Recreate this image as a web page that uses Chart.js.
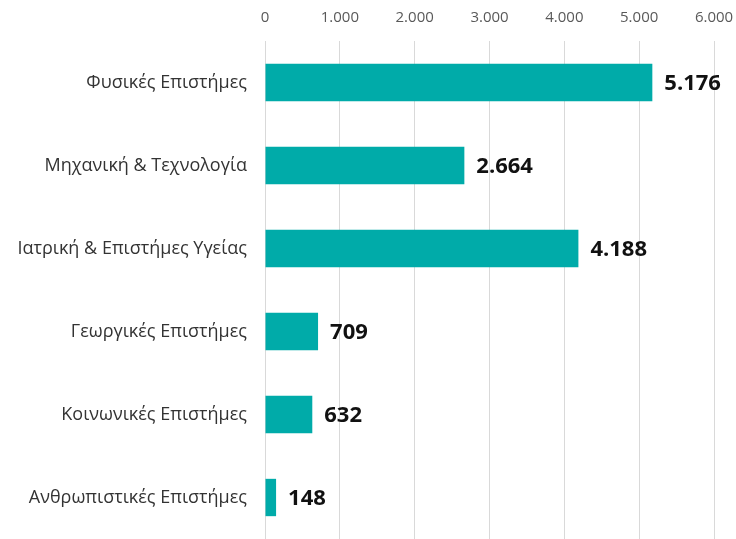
<!DOCTYPE html>
<html lang="el">
<head>
<meta charset="utf-8">
<title>Πεδία επιστημών</title>
<script src="https://cdn.jsdelivr.net/npm/chart.js@4/dist/chart.umd.min.js"></script>
<style>
  html, body { margin: 0; padding: 0; background: #fff; }
  #wrap { width: 736px; height: 539px; position: relative; }
</style>
</head>
<body>
<div id="wrap"><canvas id="chart"></canvas></div>
<script>
const categories = [
  'Φυσικές Επιστήμες',
  'Μηχανική & Τεχνολογία',
  'Ιατρική & Επιστήμες Υγείας',
  'Γεωργικές Επιστήμες',
  'Κοινωνικές Επιστήμες',
  'Ανθρωπιστικές Επιστήμες'
];
const values = [5176, 2664, 4188, 709, 632, 148];
const axisMax = 6000;
const axisStep = 1000;

const FONT = "'Open Sans', 'Liberation Sans', sans-serif";

// 5176 -> "5.176"
function fmt(n) {
  return String(n).replace(/\B(?=(\d{3})+(?!\d))/g, '.');
}

// writes the value just past the end of every bar
const valueLabels = {
  id: 'valueLabels',
  afterDatasetsDraw(chart) {
    const ctx = chart.ctx;
    const meta = chart.getDatasetMeta(0);
    ctx.save();
    ctx.font = "bold 22px " + FONT;
    ctx.fillStyle = '#111';
    ctx.textAlign = 'left';
    ctx.textBaseline = 'middle';
    meta.data.forEach((bar, i) => {
      ctx.fillText(fmt(values[i]), bar.x + 12, bar.y + 1);
    });
    ctx.restore();
  }
};

const ctx = document.getElementById('chart').getContext('2d');
new Chart(ctx, {
  type: 'bar',
  data: {
    labels: categories,
    datasets: [{
      data: values,
      backgroundColor: '#00ABA9',
      borderWidth: 0,
      barPercentage: 0.9,
      categoryPercentage: 0.5
    }]
  },
  options: {
    indexAxis: 'y',
    responsive: true,
    maintainAspectRatio: false,
    animation: false,
    layout: { padding: { left: 0, right: 22, top: 0, bottom: 0 } },
    plugins: {
      legend: { display: false },
      tooltip: { enabled: false }
    },
    scales: {
      x: {
        position: 'top',
        min: 0,
        max: axisMax,
        ticks: {
          stepSize: axisStep,
          color: '#595959',
          font: { family: FONT, size: 15 },
          padding: 0,
          callback: v => fmt(v)
        },
        // invisible tick marks keep the labels clear of the gridlines
        grid: { color: '#d9d9d9', lineWidth: 1, drawTicks: true, tickLength: 14, tickColor: 'transparent' },
        border: { display: false },
        afterFit(scale) { scale.height = 41; }
      },
      y: {
        ticks: {
          color: '#333',
          font: { family: FONT, size: 18 },
          padding: 0
        },
        grid: { display: true, drawOnChartArea: false, drawTicks: true, tickLength: 18, tickColor: 'transparent', color: 'transparent' },
        border: { display: false },
        afterFit(scale) {
          scale.width = 265;
          // let the bars run down to the bottom edge
          scale.paddingTop = 0;
          scale.paddingBottom = 0;
        }
      }
    }
  },
  plugins: [valueLabels]
});
</script>
</body>
</html>
